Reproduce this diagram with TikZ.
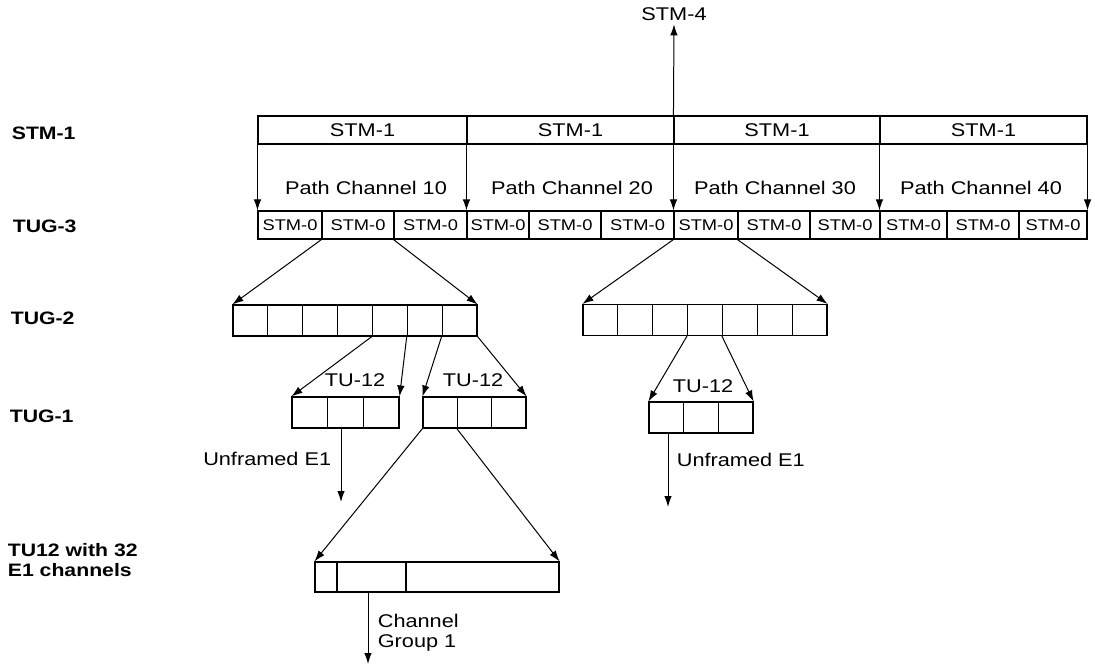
\documentclass[tikz,border=0pt]{standalone}
\usepackage{fontspec}
\setmainfont[FakeStretch=1.18]{Liberation Sans}
\usetikzlibrary{arrows.meta}
\tikzstyle{every node}=[font=\fontsize{18.4}{20}\selectfont]
\tikzstyle{frame}=[rectangle,
                   draw,
                   line width=1.1pt,
                   inner sep=0pt,
                   minimum height=28pt]
\tikzstyle{slot}=[frame,
                  font=\fontsize{15.5}{16}\selectfont]
\tikzstyle{cell}=[frame,
                  minimum height=31pt]
\tikzstyle{level}=[anchor=west,
                   align=left,
                   font=\bfseries\fontsize{18}{20}\selectfont]

\begin{document}
\begin{tikzpicture}[x=1pt,y=-1pt,>={Latex[length=11pt,width=7.5pt]},line width=1pt]
\useasboundingbox (0,0) rectangle (1095,666);
% left column labels
\node (L1) [level] at (8,133) {STM-1};
\node (L2) [level] at (9,226) {TUG-3};
\node (L3) [level] at (7,318) {TUG-2};
\node (L4) [level] at (6,416) {TUG-1};
\node (L5) [level] at (4,560) {TU12 with 32\\E1 channels};
% STM-1 frames
\node (s1) [frame,minimum width=209pt] at (362.5,130) {STM-1};
\node (s2) [frame,minimum width=207pt] at (570.5,130) {STM-1};
\node (s3) [frame,minimum width=206pt] at (777,130) {STM-1};
\node (s4) [frame,minimum width=207pt] at (983.5,130) {STM-1};
\node (stm4) at (674,14) {STM-4};
\path[->] (s3.north west) edge (stm4.south);
% path channels
\node (p10) at (366,188) {Path Channel 10};
\node (p20) at (572,188) {Path Channel 20};
\node (p30) at (775,188) {Path Channel 30};
\node (p40) at (981,188) {Path Channel 40};
% TUG-3 slots
\node (t1)  [slot,minimum width=64pt] at (290,225) {STM-0};
\node (t2)  [slot,minimum width=72pt] at (358,225) {STM-0};
\node (t3)  [slot,minimum width=73pt] at (430.5,225) {STM-0};
\node (t4)  [slot,minimum width=62pt] at (498,225) {STM-0};
\node (t5)  [slot,minimum width=72pt] at (565,225) {STM-0};
\node (t6)  [slot,minimum width=73pt] at (637.5,225) {STM-0};
\node (t7)  [slot,minimum width=64pt] at (706,225) {STM-0};
\node (t8)  [slot,minimum width=72pt] at (774,225) {STM-0};
\node (t9)  [slot,minimum width=70pt] at (845,225) {STM-0};
\node (t10) [slot,minimum width=67pt] at (913.5,225) {STM-0};
\node (t11) [slot,minimum width=72pt] at (983,225) {STM-0};
\node (t12) [slot,minimum width=68pt] at (1053,225) {STM-0};
\path[->] (s1.south west) edge (t1.north west);
\path[->] (s2.south west) edge (t4.north west);
\path[->] (s3.south west) edge (t7.north west);
\path[->] (s4.south west) edge (t10.north west);
\path[->] (s4.south east) edge (t12.north east);
% TUG-2 groups
\node (g1) [cell,minimum width=34.86pt] at (250.43,320.5) {};
\node (g2) [cell,minimum width=34.86pt] at (285.29,320.5) {};
\node (g3) [cell,minimum width=34.86pt] at (320.14,320.5) {};
\node (g4) [cell,minimum width=34.86pt] at (355,320.5) {};
\node (g5) [cell,minimum width=34.86pt] at (389.86,320.5) {};
\node (g6) [cell,minimum width=34.86pt] at (424.71,320.5) {};
\node (g7) [cell,minimum width=34.86pt] at (459.57,320.5) {};
\node (h1) [cell,minimum width=34.86pt] at (600.43,320) {};
\node (h2) [cell,minimum width=34.86pt] at (635.29,320) {};
\node (h3) [cell,minimum width=34.86pt] at (670.14,320) {};
\node (h4) [cell,minimum width=34.86pt] at (705,320) {};
\node (h5) [cell,minimum width=34.86pt] at (739.86,320) {};
\node (h6) [cell,minimum width=34.86pt] at (774.71,320) {};
\node (h7) [cell,minimum width=34.86pt] at (809.57,320) {};
\path[->] (t2.south west) edge (g1.north west);
\path[->] (t3.south west) edge (g7.north east);
\path[->] (t7.south west) edge (h1.north west);
\path[->] (t8.south west) edge (h7.north east);
% TUG-1 groups
\node (a1) [cell,minimum width=35.67pt] at (309.83,412.5) {};
\node (a2) [cell,minimum width=35.67pt] at (345.5,412.5) {};
\node (a3) [cell,minimum width=35.67pt] at (381.17,412.5) {};
\node (b1) [cell,minimum width=34.33pt] at (440.17,412.5) {};
\node (b2) [cell,minimum width=34.33pt] at (474.5,412.5) {};
\node (b3) [cell,minimum width=34.33pt] at (508.83,412.5) {};
\node (c1) [cell,minimum width=34.67pt] at (666.33,417.5) {};
\node (c2) [cell,minimum width=34.67pt] at (701,417.5) {};
\node (c3) [cell,minimum width=34.67pt] at (735.67,417.5) {};
\node (tua) at (355,380) {TU-12};
\node (tub) at (473,380) {TU-12};
\node (tuc) at (703,386) {TU-12};
\path[->] (g5.south west) edge (a1.north west);
\path[->] (g6.south west) edge (a3.north east);
\path[->] (g7.south west) edge (b1.north west);
\path[->] (g7.south east) edge (b3.north east);
\path[->] (h4.south west) edge (c1.north west);
\path[->] (h5.south west) edge (c3.north east);
% unframed E1 outputs
\coordinate (e1a) at (341,502);
\coordinate (e1c) at (668,507);
\path[->] (e1a |- a2.south) edge (e1a);
\path[->] (e1c |- c1.south) edge (e1c);
\node (ua) [anchor=east] at (335,459) {Unframed E1};
\node (uc) [anchor=west] at (673,460) {Unframed E1};
% TU12 with 32 channels
\node (w1) [frame,minimum width=22pt,minimum height=30pt] at (326,577) {};
\node (w2) [frame,minimum width=69pt,minimum height=30pt] at (371.5,577) {};
\node (w3) [frame,minimum width=153pt,minimum height=30pt] at (482.5,577) {};
\path[->] (b1.south west) edge (w1.north west);
\path[->] (b2.south west) edge (w3.north east);
\coordinate (cg) at (368,664);
\path[->] (cg |- w2.south) edge (cg);
\node (cgl) [anchor=west,align=left] at (374,633) {Channel\\Group 1};
\end{tikzpicture}
\end{document}
